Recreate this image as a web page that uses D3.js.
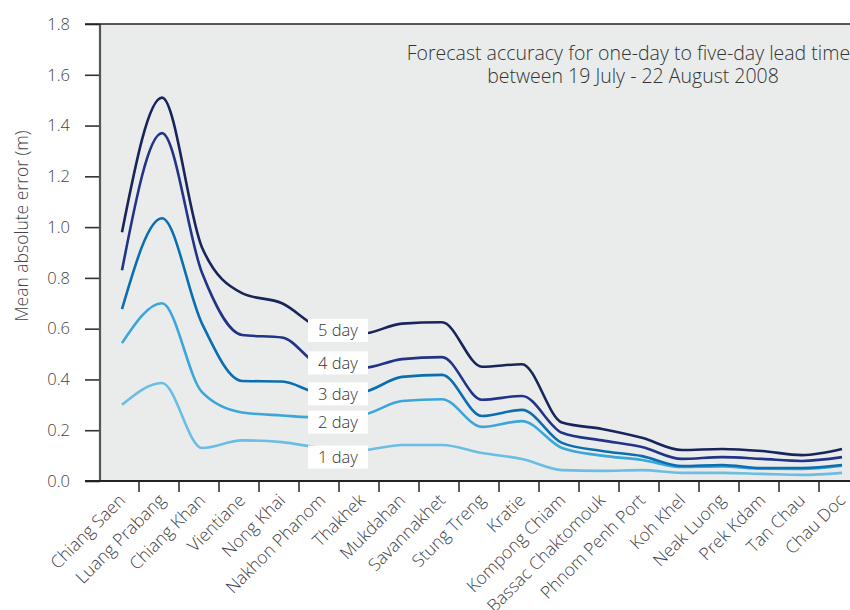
<!DOCTYPE html>
<html><head><meta charset="utf-8">
<script src="https://cdn.jsdelivr.net/npm/d3@7"></script>
<style>
body{margin:0;background:#fff;}
text{font-family:"Open Sans","Noto Sans",sans-serif;}
</style></head>
<body><svg id="c" width="850" height="610"></svg>
<script>
const categories = ["Chiang Saen","Luang Prabang","Chiang Khan","Vientiane","Nong Khai","Nakhon Phanom","Thakhek","Mukdahan","Savannakhet","Stung Treng","Kratie","Kompong Chiam","Bassac Chaktomouk","Phnom Penh Port","Koh Khel","Neak Luong","Prek Kdam","Tan Chau","Chau Doc"];
const day5 = [0.98,1.51,0.92,0.74,0.70,0.60,0.58,0.62,0.625,0.45,0.46,0.23,0.205,0.17,0.122,0.126,0.118,0.102,0.126];
const day4 = [0.83,1.37,0.82,0.575,0.565,0.455,0.445,0.48,0.488,0.32,0.335,0.19,0.16,0.134,0.087,0.094,0.087,0.079,0.094];
const day3 = [0.677,1.035,0.62,0.394,0.392,0.345,0.35,0.41,0.418,0.256,0.28,0.15,0.118,0.098,0.059,0.063,0.051,0.051,0.063];
const day2 = [0.543,0.70,0.35,0.27,0.258,0.25,0.26,0.315,0.322,0.213,0.236,0.13,0.10,0.083,0.055,0.057,0.048,0.047,0.06];
const day1 = [0.30,0.386,0.13,0.16,0.153,0.13,0.122,0.142,0.142,0.11,0.087,0.043,0.04,0.043,0.032,0.032,0.028,0.024,0.032];
const seriesNames = ["1 day","2 day","3 day","4 day","5 day"];
const seriesValues = [day1,day2,day3,day4,day5];
const seriesColors = ["#6bbde3","#3aa6dc","#0b6eb0","#213488","#17255a"];
const yTicks = [0,0.2,0.4,0.6,0.8,1.0,1.2,1.4,1.6,1.8];
const titleLines = ["Forecast accuracy for one-day to five-day lead times","between 19 July - 22 August 2008"];
const yTitle = "Mean absolute error (m)";

const svg = d3.select("#c");
const L = 100, T = 24, B = 481, R = 850;
const y = d3.scaleLinear().domain([0,1.8]).range([B,T]);
const xBand = d3.scaleBand().domain(categories).range([99,859]);
const xPt = d3.scalePoint().domain(categories).range([122,842]);

svg.append("rect").attr("x",L).attr("y",T).attr("width",R-L).attr("height",B-T).attr("fill","#eaeceb");

// lines
const line = d3.line().x((d,i)=>xPt(categories[i])).y(d=>y(d)).curve(d3.curveMonotoneX);
const g = svg.append("g");
seriesValues.forEach((vals,k)=>{
  g.append("path").datum(vals).attr("d",line).attr("fill","none")
   .attr("stroke",seriesColors[k]).attr("stroke-width",2.6).attr("stroke-linejoin","round");
});

// series labels
const labelVals = [0.0945,0.232,0.343,0.465,0.593];
seriesNames.forEach((n,k)=>{
  const cy = y(labelVals[k]);
  svg.append("rect").attr("x",308).attr("y",cy-11.5).attr("width",60).attr("height",23).attr("fill","#fff");
  svg.append("text").attr("x",338).attr("y",cy).attr("dy","0.35em").attr("text-anchor","middle")
    .attr("font-size",16.5).attr("fill","#333").attr("font-weight",300).text(n);
});

// axes
const yAxis = d3.axisLeft(y).tickValues(yTicks).tickFormat(d3.format(".1f")).tickSize(15).tickPadding(15);
const ya = svg.append("g").attr("transform",`translate(${L},0)`).call(yAxis);
ya.select(".domain").remove();
ya.selectAll(".tick line").attr("stroke","#333").attr("stroke-width",1.6);
ya.selectAll(".tick text").attr("font-size",16.5).attr("fill","#444").attr("font-weight",300).attr("font-family","'Open Sans',sans-serif");

svg.append("line").attr("x1",L).attr("x2",L).attr("y1",T).attr("y2",B).attr("stroke","#555").attr("stroke-width",2.2);
svg.append("line").attr("x1",85).attr("x2",R).attr("y1",T).attr("y2",T).attr("stroke","#222").attr("stroke-width",1.6);
svg.append("line").attr("x1",85).attr("x2",R).attr("y1",B).attr("y2",B).attr("stroke","#222").attr("stroke-width",1.8);

// x ticks at band boundaries
svg.append("g").selectAll("line").data(categories.slice(0,-1)).join("line")
  .attr("x1",d=>xBand(d)+xBand.bandwidth()).attr("x2",d=>xBand(d)+xBand.bandwidth())
  .attr("y1",B).attr("y2",B+11).attr("stroke","#333").attr("stroke-width",1.6);

// x labels
svg.append("g").selectAll("text").data(categories).join("text")
  .attr("transform",d=>`translate(${xBand(d)+xBand.bandwidth()/2+3},${B+16}) rotate(-45)`)
  .attr("text-anchor","end").attr("dy","0.35em")
  .attr("font-size",17.5).attr("fill","#444").attr("font-weight",300).text(d=>d);

// y title
svg.append("text").attr("transform","translate(22,226) rotate(-90)").attr("text-anchor","middle")
  .attr("dy","0.35em").attr("font-size",17.5).attr("fill","#444").attr("font-weight",300).text(yTitle);

// chart title
titleLines.forEach((t,i)=>{
  svg.append("text").attr("x",633).attr("y",60+i*23).attr("text-anchor","middle")
    .attr("font-size",19.5).attr("fill","#333").attr("font-weight",300).text(t);
});
</script></body></html>
